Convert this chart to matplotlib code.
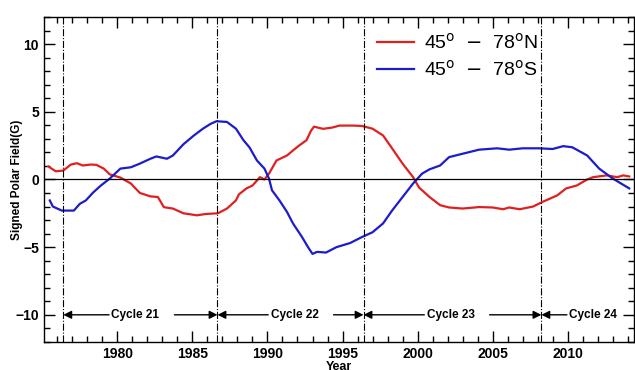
import matplotlib.pyplot as plt
from matplotlib.ticker import MultipleLocator

plt.rcParams['font.family'] = ['Liberation Sans', 'DejaVu Sans']

# north hemisphere polar field (red)
north_year = [1975.4, 1975.9, 1976.4, 1976.9, 1977.3, 1977.7, 1978.2, 1978.6, 1979.1, 1979.5,
              1980.2, 1980.9, 1981.5, 1982.2, 1982.7, 1983.1, 1983.7, 1984.4, 1985.3, 1985.9,
              1986.7, 1987.3, 1987.9, 1988.1, 1988.6, 1989.0, 1989.5, 1989.8, 1990.1, 1990.6,
              1991.3, 1991.7, 1992.1, 1992.6, 1992.9, 1993.1, 1993.7, 1994.3, 1994.8, 1995.7,
              1996.3, 1997.0, 1997.7, 1998.3, 1999.0, 1999.7, 2000.1, 2000.8, 2001.5, 2002.1,
              2003.0, 2004.1, 2005.0, 2005.7, 2006.1, 2006.8, 2007.7, 2008.3, 2009.3, 2009.9,
              2010.6, 2011.3, 2011.7, 2012.6, 2013.3, 2013.7, 2014.1]
north_field = [0.96, 0.6, 0.66, 1.1, 1.2, 1.03, 1.1, 1.08, 0.8, 0.37,
               0.14, -0.3, -1.0, -1.25, -1.3, -2.05, -2.15, -2.5, -2.65, -2.55,
               -2.5, -2.15, -1.55, -1.1, -0.66, -0.45, 0.17, 0.0, 0.43, 1.4,
               1.77, 2.14, 2.5, 2.9, 3.6, 3.9, 3.74, 3.83, 3.98, 3.98,
               3.95, 3.75, 3.25, 2.3, 1.17, 0.17, -0.6, -1.3, -1.9, -2.07,
               -2.15, -2.04, -2.07, -2.2, -2.07, -2.2, -2.0, -1.67, -1.18, -0.66,
               -0.45, 0.0, 0.17, 0.3, 0.17, 0.3, 0.22]

# south hemisphere polar field (blue)
south_year = [1975.5, 1975.7, 1976.3, 1977.1, 1977.5, 1977.9, 1978.4, 1978.9, 1979.5, 1980.2,
              1980.9, 1981.5, 1982.2, 1982.6, 1983.3, 1983.7, 1984.4, 1985.1, 1985.7, 1986.2,
              1986.6, 1987.3, 1987.9, 1988.4, 1988.8, 1989.3, 1989.8, 1990.1, 1990.3, 1990.8,
              1991.3, 1991.7, 1992.3, 1992.7, 1993.0, 1993.3, 1993.9, 1994.6, 1995.5, 1996.3,
              1997.0, 1997.7, 1998.3, 1999.0, 1999.7, 2000.3, 2000.8, 2001.5, 2002.1, 2003.0,
              2004.1, 2005.3, 2006.1, 2007.0, 2008.1, 2009.0, 2009.7, 2010.3, 2011.3, 2012.1,
              2013.0, 2014.1]
south_field = [-1.55, -2.0, -2.3, -2.3, -1.8, -1.55, -0.95, -0.45, 0.07, 0.8,
               0.9, 1.17, 1.53, 1.7, 1.53, 1.77, 2.6, 3.25, 3.75, 4.1,
               4.3, 4.25, 3.75, 2.9, 2.37, 1.4, 0.8, 0.07, -0.8, -1.55,
               -2.4, -3.25, -4.25, -5.0, -5.5, -5.35, -5.4, -5.0, -4.7, -4.25,
               -3.9, -3.25, -2.3, -1.3, -0.3, 0.43, 0.75, 1.03, 1.65, 1.9,
               2.2, 2.3, 2.2, 2.3, 2.3, 2.25, 2.46, 2.38, 1.77, 0.8,
               0.07, -0.66]

cycle_bounds = [1976.4, 1986.67, 1996.4, 2008.25]
cycle_names = ['Cycle 21', 'Cycle 22', 'Cycle 23', 'Cycle 24']
cycle_text_x = [1981.2, 1991.8, 2002.2, 2011.7]

fig = plt.figure(figsize=(6.35, 3.70), dpi=100)
ax = fig.add_axes([0.069, 0.076, 0.929, 0.878])

ax.plot(north_year, north_field, color='#e02020', lw=1.6, label=r'45$^{\rm o}$  $-$  78$^{\rm o}$N')
ax.plot(south_year, south_field, color='#1c1ccc', lw=1.6, label=r'45$^{\rm o}$  $-$  78$^{\rm o}$S')
ax.axhline(0, color='black', lw=0.9)

for b in cycle_bounds:
    ax.axvline(b, color='black', lw=0.8, ls='-.')

# cycle arrows along y = -10
arrow_kw = dict(arrowstyle='-|>', color='black', lw=1.0, mutation_scale=12, shrinkA=0, shrinkB=0)
right_edges = cycle_bounds[1:] + [None]
for left, right, name, tx in zip(cycle_bounds, right_edges, cycle_names, cycle_text_x):
    ax.text(tx, -10, name, ha='center', va='center', fontsize=8.5, fontweight='bold')
    ax.annotate('', xy=(left, -10), xytext=(tx - 1.75, -10), arrowprops=arrow_kw)
    if right is not None:
        ax.annotate('', xy=(right, -10), xytext=(tx + 2.6, -10), arrowprops=arrow_kw)

ax.set_xlim(1975.1, 2014.4)
ax.set_ylim(-12, 12)
ax.xaxis.set_major_locator(MultipleLocator(5))
ax.xaxis.set_minor_locator(MultipleLocator(1))
ax.yaxis.set_major_locator(MultipleLocator(5))
ax.yaxis.set_minor_locator(MultipleLocator(1))
ax.tick_params(which='both', direction='in', top=True, right=True, width=1.0)
ax.tick_params(which='major', length=8, labelsize=10)
ax.tick_params(which='minor', length=4)
for lab in ax.get_xticklabels() + ax.get_yticklabels():
    lab.set_fontweight('bold')
for s in ax.spines.values():
    s.set_linewidth(1.0)

ax.set_ylabel('Signed Polar Field(G)', fontsize=8.5, fontweight='bold')
ax.yaxis.set_label_coords(-0.036, 0.5)
ax.set_xlabel('Year', fontsize=9, fontweight='bold', labelpad=0)

ax.legend(loc='upper left', bbox_to_anchor=(0.535, 1.005), frameon=False, fontsize=14,
          handlelength=1.9, handletextpad=0.5, labelspacing=0.35)

fig.savefig('out.png', dpi=100)
